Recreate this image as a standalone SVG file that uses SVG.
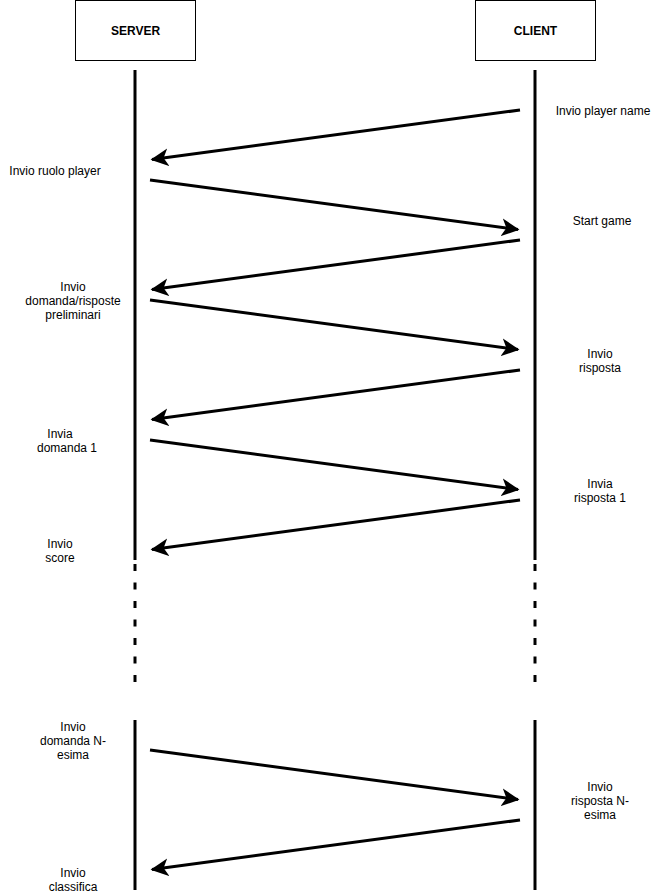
<svg xmlns="http://www.w3.org/2000/svg" width="661" height="895" viewBox="0 0 661 895">
<defs>
<style>
.box{fill:#fff;stroke:#000;stroke-width:1}
.hdr{font-family:"Liberation Sans",Arial,sans-serif;font-size:12px;font-weight:bold;text-anchor:middle;fill:#000}
.lbl{font-family:"Liberation Sans",Arial,sans-serif;font-size:12px;text-anchor:middle;fill:#000}
.life{stroke:#000;stroke-width:3;fill:none}
.dash{stroke:#000;stroke-width:3;fill:none;stroke-dasharray:7 11.5}
.msg{stroke:#000;stroke-width:3;fill:none;marker-end:url(#ah)}
</style>
<marker id="ah" markerWidth="7" markerHeight="6" refX="5.5" refY="3" orient="auto" markerUnits="strokeWidth">
<path d="M0,0 L6,3 L0,6 L1.6,3 Z" fill="#000"/>
</marker>
</defs>
<rect width="661" height="895" fill="#fff"/>
<g id="server">
<rect class="box" x="75.5" y="0.5" width="120" height="60"/>
<text class="hdr" x="135.5" y="35">SERVER</text>
<line class="life" x1="135" y1="70" x2="135" y2="560"/>
<line class="dash" x1="135" y1="564" x2="135" y2="682"/>
<line class="life" x1="135" y1="720" x2="135" y2="890"/>
</g>
<g id="client">
<rect class="box" x="475.5" y="0.5" width="120" height="60"/>
<text class="hdr" x="535.5" y="35">CLIENT</text>
<line class="life" x1="535" y1="70" x2="535" y2="560"/>
<line class="dash" x1="535" y1="564" x2="535" y2="682"/>
<line class="life" x1="535" y1="720" x2="535" y2="890"/>
</g>
<g id="connectors">
<line class="msg" x1="520" y1="110" x2="152" y2="159.5"/>
<line class="msg" x1="150" y1="180" x2="518" y2="229.5"/>
<line class="msg" x1="520" y1="240" x2="152" y2="289.5"/>
<line class="msg" x1="150" y1="300" x2="518" y2="349.5"/>
<line class="msg" x1="520" y1="370" x2="152" y2="419.5"/>
<line class="msg" x1="150" y1="440" x2="518" y2="489.5"/>
<line class="msg" x1="520" y1="500" x2="152" y2="549.5"/>
<line class="msg" x1="150" y1="750" x2="518" y2="799.5"/>
<line class="msg" x1="520" y1="820" x2="152" y2="869.5"/>
</g>
<g id="labels">
<text class="lbl" x="603" y="115">Invio player name</text>
<text class="lbl" x="55" y="175">Invio ruolo player</text>
<text class="lbl" x="602" y="225">Start game</text>
<text class="lbl" x="73" y="291">Invio</text>
<text class="lbl" x="73" y="305">domanda/risposte</text>
<text class="lbl" x="73" y="319">preliminari</text>
<text class="lbl" x="600" y="358">Invio</text>
<text class="lbl" x="600" y="372">risposta</text>
<text class="lbl" x="60" y="438">Invia</text>
<text class="lbl" x="67" y="452">domanda 1</text>
<text class="lbl" x="600" y="488">Invia</text>
<text class="lbl" x="600" y="502">risposta 1</text>
<text class="lbl" x="60" y="548">Invio</text>
<text class="lbl" x="60" y="562">score</text>
<text class="lbl" x="73" y="731">Invio</text>
<text class="lbl" x="73" y="745">domanda N-</text>
<text class="lbl" x="73" y="759">esima</text>
<text class="lbl" x="600" y="791">Invio</text>
<text class="lbl" x="600" y="805">risposta N-</text>
<text class="lbl" x="600" y="819">esima</text>
<text class="lbl" x="73" y="877">Invio</text>
<text class="lbl" x="73" y="891">classifica</text>
</g>
</svg>
